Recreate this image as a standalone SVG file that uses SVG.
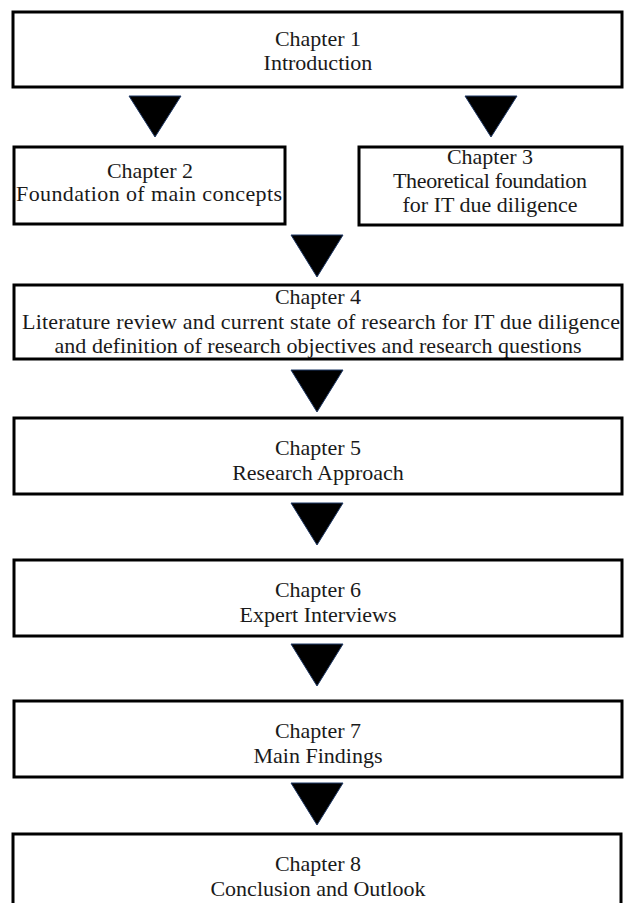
<svg xmlns="http://www.w3.org/2000/svg" width="626" height="903" viewBox="0 0 626 903">
  <style>
    .box { fill: #ffffff; stroke: #000000; stroke-width: 3; }
    .lbl { font-family: "Liberation Serif", "DejaVu Serif", serif; font-size: 22px; fill: #1a1a1a; text-anchor: middle; }
    .arrow { fill: #000000; stroke: #1f3864; stroke-width: 1; }
  </style>
  <rect width="626" height="903" fill="#ffffff"/>

  <g id="ch1">
    <rect class="box" x="13" y="12" width="609" height="75"/>
    <text class="lbl" x="318" y="46">Chapter 1</text>
    <text class="lbl" x="318" y="70">Introduction</text>
  </g>
  <g id="ch2">
    <rect class="box" x="14" y="147" width="271" height="77"/>
    <text class="lbl" x="150" y="178">Chapter 2</text>
    <text class="lbl" x="149" y="201" textLength="266">Foundation of main concepts</text>
  </g>
  <g id="ch3">
    <rect class="box" x="359" y="147" width="263" height="78"/>
    <text class="lbl" x="490" y="164">Chapter 3</text>
    <text class="lbl" x="490" y="188" textLength="194">Theoretical foundation</text>
    <text class="lbl" x="490" y="212">for IT due diligence</text>
  </g>
  <g id="ch4">
    <rect class="box" x="14" y="285" width="608" height="74"/>
    <text class="lbl" x="318" y="304">Chapter 4</text>
    <text class="lbl" x="321" y="329" textLength="598">Literature review and current state of research for IT due diligence</text>
    <text class="lbl" x="318" y="353" textLength="527">and definition of research objectives and research questions</text>
  </g>
  <g id="ch5">
    <rect class="box" x="14" y="418" width="608" height="76"/>
    <text class="lbl" x="318" y="455">Chapter 5</text>
    <text class="lbl" x="318" y="480">Research Approach</text>
  </g>
  <g id="ch6">
    <rect class="box" x="14" y="560" width="608" height="76"/>
    <text class="lbl" x="318" y="597">Chapter 6</text>
    <text class="lbl" x="318" y="622">Expert Interviews</text>
  </g>
  <g id="ch7">
    <rect class="box" x="14" y="701" width="608" height="76"/>
    <text class="lbl" x="318" y="738">Chapter 7</text>
    <text class="lbl" x="318" y="763">Main Findings</text>
  </g>
  <g id="ch8">
    <rect class="box" x="13" y="834" width="608" height="80"/>
    <text class="lbl" x="318" y="871">Chapter 8</text>
    <text class="lbl" x="318" y="896">Conclusion and Outlook</text>
  </g>

  <g id="connectors">
    <polygon class="arrow" points="129,96 181,96 155,137"/>
    <polygon class="arrow" points="465,96 517,96 491,137"/>
    <polygon class="arrow" points="291,235 343,235 317,277"/>
    <polygon class="arrow" points="291,370 343,370 317,412"/>
    <polygon class="arrow" points="291,503 343,503 317,545"/>
    <polygon class="arrow" points="291,644 343,644 317,686"/>
    <polygon class="arrow" points="291,783 343,783 317,825"/>
  </g>
</svg>
